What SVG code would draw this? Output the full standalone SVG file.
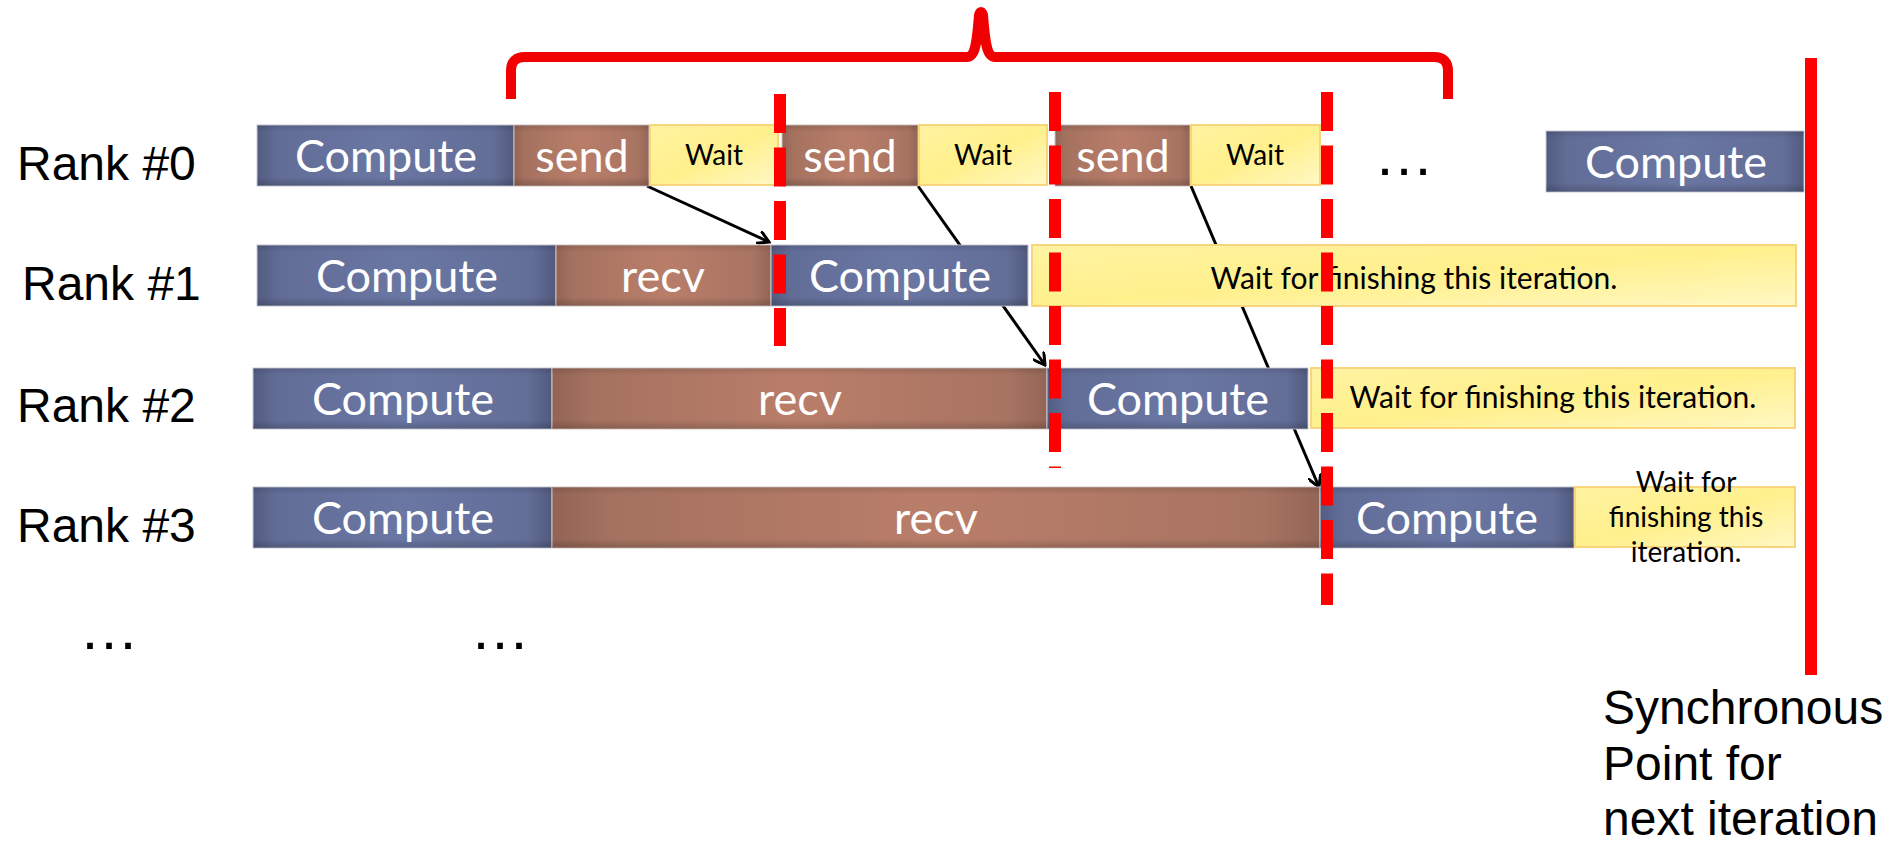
<svg xmlns="http://www.w3.org/2000/svg" width="1898" height="844" viewBox="0 0 1898 844">
<defs>
<linearGradient id="gC" x1="0" y1="0" x2="1" y2="0">
<stop offset="0" stop-color="#535c80"/><stop offset="0.08" stop-color="#626d97"/><stop offset="0.5" stop-color="#6a77a3"/><stop offset="0.92" stop-color="#636e98"/><stop offset="1" stop-color="#515a7d"/>
</linearGradient>
<linearGradient id="gB" x1="0" y1="0" x2="1" y2="0">
<stop offset="0" stop-color="#926455"/><stop offset="0.08" stop-color="#a57260"/><stop offset="0.5" stop-color="#b97e6a"/><stop offset="0.92" stop-color="#a87462"/><stop offset="1" stop-color="#936556"/>
</linearGradient>
<linearGradient id="gY" x1="0" y1="0" x2="1" y2="1">
<stop offset="0" stop-color="#fff3a2"/><stop offset="0.5" stop-color="#fff08c"/><stop offset="1" stop-color="#fff8c4"/>
</linearGradient>
<linearGradient id="gV" x1="0" y1="0" x2="0" y2="1">
<stop offset="0" stop-color="#000" stop-opacity="0.12"/><stop offset="0.12" stop-color="#000" stop-opacity="0"/><stop offset="0.85" stop-color="#000" stop-opacity="0"/><stop offset="1" stop-color="#000" stop-opacity="0.18"/>
</linearGradient>
<marker id="arr" markerWidth="14" markerHeight="14" refX="12" refY="7" orient="auto" markerUnits="userSpaceOnUse" viewBox="0 0 14 14">
<path d="M0 0 L12 7 L0 14" fill="none" stroke="#000" stroke-width="3"/>
</marker>
<style>
.c{fill:url(#gC);stroke:#c9ccd8;stroke-width:1}
.b{fill:url(#gB);stroke:#d2c4bf;stroke-width:1}
.y{fill:url(#gY);stroke:#f8d57c;stroke-width:2}
.sh{fill:url(#gV);stroke:none}
.tw{font-family:Lato,"Open Sans",sans-serif;font-size:45px;fill:#fff;text-anchor:middle}
.tk{font-family:Lato,"Open Sans",sans-serif;font-size:28px;fill:#000;text-anchor:middle}
.tl{font-family:Lato,"Open Sans",sans-serif;font-size:30px;fill:#000;text-anchor:middle}
.lb{font-family:"Liberation Sans",Arial,sans-serif;font-size:48px;fill:#000}
.dots{font-family:"Liberation Sans",Arial,sans-serif;font-size:60px;fill:#000}
.dash{stroke:#ff0000;stroke-width:12;stroke-dasharray:39 14.5;fill:none}
.conn{stroke:#000;stroke-width:3;fill:none}
</style>
</defs>
<rect width="1898" height="844" fill="#fff"/>

<g id="connectors">
<line class="conn" x1="647" y1="186" x2="769" y2="242" marker-end="url(#arr)"/>
<line class="conn" x1="918" y1="186" x2="1045" y2="365" marker-end="url(#arr)"/>
<line class="conn" x1="1191" y1="186" x2="1319" y2="487" marker-end="url(#arr)"/>
</g>

<g id="labels">
<text class="lb" x="17" y="180">Rank #0</text>
<text class="lb" x="22" y="300">Rank #1</text>
<text class="lb" x="17" y="422">Rank #2</text>
<text class="lb" x="17" y="542">Rank #3</text>
<text class="dots" x="1374" y="175">…</text>
<text class="dots" x="79" y="649">…</text>
<text class="dots" x="470" y="649">…</text>
</g>

<g id="rank0">
<g id="r0-compute"><rect class="c" x="257" y="125" width="257" height="61"/><rect class="sh" x="257" y="125" width="257" height="61"/><text class="tw" x="386" y="172">Compute</text></g>
<g id="r0-send1"><rect class="b" x="514" y="125" width="135" height="61"/><rect class="sh" x="514" y="125" width="135" height="61"/><text class="tw" x="582" y="172">send</text></g>
<g id="r0-wait1"><rect class="y" x="650" y="125" width="128" height="60"/><text class="tk" x="714" y="165">Wait</text></g>
<g id="r0-send2"><rect class="b" x="782" y="125" width="136" height="61"/><rect class="sh" x="782" y="125" width="136" height="61"/><text class="tw" x="850" y="172">send</text></g>
<g id="r0-wait2"><rect class="y" x="919" y="125" width="128" height="60"/><text class="tk" x="983" y="165">Wait</text></g>
<g id="r0-send3"><rect class="b" x="1055" y="125" width="135" height="61"/><rect class="sh" x="1055" y="125" width="135" height="61"/><text class="tw" x="1123" y="172">send</text></g>
<g id="r0-wait3"><rect class="y" x="1191" y="125" width="129" height="60"/><text class="tk" x="1255" y="165">Wait</text></g>
<g id="r0-compute2"><rect class="c" x="1546" y="131" width="258" height="61"/><rect class="sh" x="1546" y="131" width="258" height="61"/><text class="tw" x="1676" y="178">Compute</text></g>
</g>

<g id="rank1">
<g id="r1-compute"><rect class="c" x="257" y="245" width="299" height="61"/><rect class="sh" x="257" y="245" width="299" height="61"/><text class="tw" x="407" y="292">Compute</text></g>
<g id="r1-recv"><rect class="b" x="556" y="245" width="215" height="61"/><rect class="sh" x="556" y="245" width="215" height="61"/><text class="tw" x="663" y="292">recv</text></g>
<g id="r1-compute2"><rect class="c" x="771" y="245" width="257" height="61"/><rect class="sh" x="771" y="245" width="257" height="61"/><text class="tw" x="900" y="292">Compute</text></g>
<g id="r1-wait"><rect class="y" x="1032" y="245" width="764" height="61"/><text class="tl" x="1414" y="289">Wait for finishing this iteration.</text></g>
</g>

<g id="rank2">
<g id="r2-compute"><rect class="c" x="253" y="368" width="299" height="61"/><rect class="sh" x="253" y="368" width="299" height="61"/><text class="tw" x="403" y="415">Compute</text></g>
<g id="r2-recv"><rect class="b" x="552" y="368" width="495" height="61"/><rect class="sh" x="552" y="368" width="495" height="61"/><text class="tw" x="800" y="415">recv</text></g>
<g id="r2-compute2"><rect class="c" x="1047" y="368" width="261" height="61"/><rect class="sh" x="1047" y="368" width="261" height="61"/><text class="tw" x="1178" y="415">Compute</text></g>
<g id="r2-wait"><rect class="y" x="1311" y="368" width="484" height="60"/><text class="tl" x="1553" y="408">Wait for finishing this iteration.</text></g>
</g>

<g id="rank3">
<g id="r3-compute"><rect class="c" x="253" y="487" width="299" height="61"/><rect class="sh" x="253" y="487" width="299" height="61"/><text class="tw" x="403" y="534">Compute</text></g>
<g id="r3-recv"><rect class="b" x="552" y="487" width="768" height="61"/><rect class="sh" x="552" y="487" width="768" height="61"/><text class="tw" x="936" y="534">recv</text></g>
<g id="r3-compute2"><rect class="c" x="1320" y="487" width="254" height="61"/><rect class="sh" x="1320" y="487" width="254" height="61"/><text class="tw" x="1447" y="534">Compute</text></g>
<g id="r3-wait"><rect class="y" x="1575" y="487" width="220" height="60"/><text class="tk" x="1686" y="492">Wait for</text><text class="tk" x="1686" y="527">finishing this</text><text class="tk" x="1686" y="562">iteration.</text></g>
</g>

<g id="sync-lines">
<line class="dash" x1="780" y1="94" x2="780" y2="346"/>
<line class="dash" x1="1055" y1="92" x2="1055" y2="468"/>
<line class="dash" x1="1327" y1="92" x2="1327" y2="605"/>
<line x1="1811" y1="58" x2="1811" y2="675" stroke="#ff0000" stroke-width="12"/>
<path d="M511 99 L511 71 Q511 57 525 57 L967 57 C976 57 977 40 979 15 Q981 9 983 15 C985 40 986 57 995 57 L1434 57 Q1448 57 1448 71 L1448 99" fill="none" stroke="#f00000" stroke-width="10"/>
</g>

<g id="sync-label">
<text class="lb" x="1603" y="724">Synchronous</text>
<text class="lb" x="1603" y="780">Point for</text>
<text class="lb" x="1603" y="835">next iteration</text>
</g>
</svg>
